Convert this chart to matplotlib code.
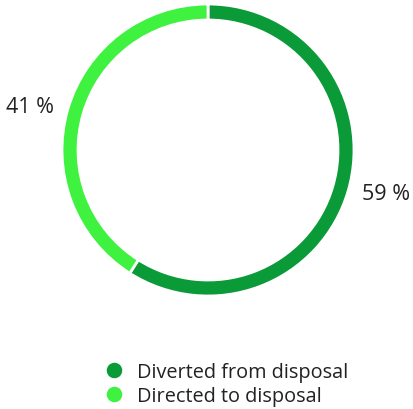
import matplotlib
matplotlib.use("Agg")
import matplotlib.pyplot as plt
from matplotlib.lines import Line2D

matplotlib.rcParams['font.family'] = ['Open Sans', 'DejaVu Sans']

# waste split, percent
categories = ["Diverted from disposal", "Directed to disposal"]
shares = [59, 41]
colors = ["#0a9a38", "#3ef23f"]

fig = plt.figure(figsize=(4.14, 4.10), dpi=100)
ax = fig.add_axes([0, 0, 1, 1])

cx, cy = 208, 259
wedges, texts = ax.pie(shares, colors=colors, startangle=90, counterclock=False,
                       center=(cx, cy), radius=146,
                       labels=[f"{v} %" for v in shares], labeldistance=1.27,
                       wedgeprops=dict(width=16, edgecolor="white", linewidth=2),
                       textprops=dict(fontsize=15.5, color="#222222"))
for t in texts:
    t.set_horizontalalignment("center")
    t.set_verticalalignment("center")
    # keep the labels a bit closer to the horizontal
    x, y = t.get_position()
    t.set_position((x, cy + (y - cy) * 0.85))

# pie() resets the limits, so set pixel-like ones afterwards
ax.set_xlim(0, 414)
ax.set_ylim(0, 410)
ax.set_aspect("equal")
ax.axis("off")

handles = [Line2D([], [], marker="o", linestyle="", markersize=12,
                  markerfacecolor=c, markeredgecolor="white", markeredgewidth=0.8)
           for c in colors]
ax.legend(handles, categories, loc="upper left", bbox_to_anchor=(0.228, 0.134),
          frameon=False, fontsize=14.3, handletextpad=0.55, labelspacing=0.22,
          borderaxespad=0, labelcolor="#222222", handlelength=1.2)

fig.savefig("out.png", dpi=100)
